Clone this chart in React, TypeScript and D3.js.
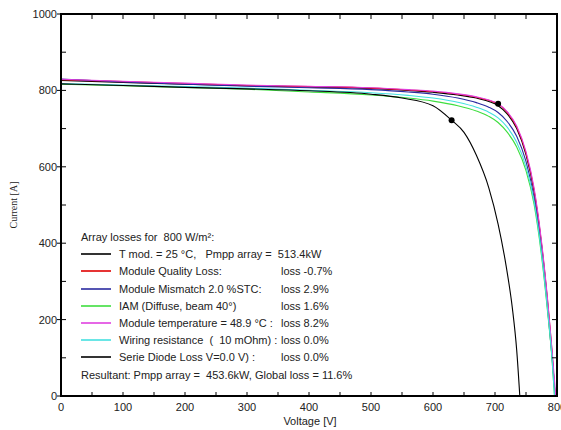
import React, { useRef, useEffect } from 'react';
import * as d3 from 'd3';

// I-V curves: [voltage V, current A]
const tmodCurve = [[0,826],[100,821],[200,816],[300,812],[400,809],[500,805],[560,800],[600,795],[640,788],[670,780],[690,771],[705,760],[720,738],[735,700],[750,632],[763,536],[775,396],[785,240],[792,110],[797,0]];
const qualityCurve = [[0,828],[100,823],[200,818],[300,813],[400,810],[500,806],[560,801],[600,797],[640,790],[670,782],[690,774],[705,764],[720,742],[735,704],[750,636],[763,540],[775,400],[785,245],[792,115],[797,0]];
const mismatchCurve = [[0,830],[100,822],[200,816],[300,811],[400,807],[500,802],[560,796],[600,790],[640,780],[670,768],[690,756],[705,742],[720,718],[735,680],[750,614],[763,520],[775,382],[785,228],[792,102],[797,0]];
const iamCurve = [[0,816],[100,812],[200,808],[300,803],[400,796],[500,788],[560,780],[600,772],[640,760],[670,746],[690,732],[705,716],[720,690],[735,652],[750,590],[763,502],[775,368],[785,218],[792,96],[796,0]];
const tempCurve = [[0,829],[100,824],[200,819],[300,814],[400,811],[500,807],[560,802],[600,798],[640,791],[670,783],[690,775],[705,765],[720,744],[735,707],[750,640],[763,545],[775,405],[785,250],[792,120],[798,0]];
const wiringCurve = [[0,818],[100,814],[200,810],[300,806],[400,800],[500,794],[560,787],[600,780],[640,769],[670,756],[690,743],[705,728],[720,703],[735,664],[750,600],[763,510],[775,374],[785,222],[792,98],[796,0]];
const diodeCurve = [[0,817],[100,813],[200,808],[300,804],[400,799],[500,790],[550,780],[600,760],[630,722],[650,690],[670,630],[690,545],[705,450],[718,340],[728,230],[735,120],[740,0]];

const mppPoints = [[705, 765], [630, 722]];

const legendTitle = 'Array losses for  800 W/m²:';
const legendLabels = [
  'T mod. = 25 °C,   Pmpp array =  513.4kW',
  'Module Quality Loss:',
  'Module Mismatch 2.0 %STC:',
  'IAM (Diffuse, beam 40°)',
  'Module temperature = 48.9 °C :',
  'Wiring resistance  (  10 mOhm) :',
  'Serie Diode Loss V=0.0 V) :',
];
const legendLosses = ['', 'loss -0.7%', 'loss 2.9%', 'loss 1.6%', 'loss 8.2%', 'loss 0.0%', 'loss 0.0%'];
const legendColors = ['#000000', '#e00000', '#2a2aa0', '#3ede3e', '#e040e0', '#44e0e0', '#000000'];
const resultantText = 'Resultant: Pmpp array =  453.6kW, Global loss = 11.6%';

const curves = [tmodCurve, qualityCurve, mismatchCurve, iamCurve, tempCurve, wiringCurve, diodeCurve];

const xTicks = [0, 100, 200, 300, 400, 500, 600, 700, 800];
const yTicks = [0, 200, 400, 600, 800, 1000];

const width = 561;
const height = 430;
const margin = { left: 61, right: 4, top: 14, bottom: 34 };

const App = () => {
  const svgRef = useRef(null);

  useEffect(() => {
    const svgEl = d3.select(svgRef.current);
    svgEl.selectAll('*').remove();

    const x = d3.scaleLinear().domain([0, 800]).range([margin.left, width - margin.right]);
    const y = d3.scaleLinear().domain([0, 1000]).range([height - margin.bottom, margin.top]);
    const font = 'Liberation Sans, Arial, sans-serif';

    // curves
    const curveLine = d3.line()
      .x(d => x(d[0]))
      .y(d => y(d[1]))
      .curve(d3.curveMonotoneX);

    const plot = svgEl.append('g');
    curves.forEach((c, i) => {
      plot.append('path')
        .attr('d', curveLine(c))
        .attr('fill', 'none')
        .attr('stroke', legendColors[i])
        .attr('stroke-width', 1.1);
    });

    plot.selectAll('circle')
      .data(mppPoints)
      .enter()
      .append('circle')
      .attr('cx', d => x(d[0]))
      .attr('cy', d => y(d[1]))
      .attr('r', 3)
      .attr('fill', '#000');

    // inner ticks on all four sides
    const ticks = svgEl.append('g').attr('stroke', '#000').attr('stroke-width', 1);
    d3.range(0, 801, 50).forEach(v => {
      ticks.append('line').attr('x1', x(v)).attr('x2', x(v)).attr('y1', y(0)).attr('y2', y(0) - 4);
      ticks.append('line').attr('x1', x(v)).attr('x2', x(v)).attr('y1', y(1000)).attr('y2', y(1000) + 5);
    });
    d3.range(0, 1001, 100).forEach(v => {
      ticks.append('line').attr('x1', x(0)).attr('x2', x(0) + 5).attr('y1', y(v)).attr('y2', y(v));
      ticks.append('line').attr('x1', x(800)).attr('x2', x(800) - 5).attr('y1', y(v)).attr('y2', y(v));
    });
    yTicks.forEach(v => {
      ticks.append('line').attr('x1', x(0)).attr('x2', x(0) - 4).attr('y1', y(v)).attr('y2', y(v));
    });

    // frame
    svgEl.append('rect')
      .attr('x', x(0)).attr('y', y(1000))
      .attr('width', x(800) - x(0)).attr('height', y(0) - y(1000))
      .attr('fill', 'none').attr('stroke', '#000').attr('stroke-width', 2);

    // tick labels
    svgEl.append('g').selectAll('text')
      .data(xTicks)
      .enter()
      .append('text')
      .attr('x', d => x(d))
      .attr('y', y(0) + 15)
      .attr('text-anchor', 'middle')
      .attr('font-family', font)
      .attr('font-size', 11)
      .attr('fill', '#222')
      .text(d => d);

    svgEl.append('g').selectAll('text')
      .data(yTicks)
      .enter()
      .append('text')
      .attr('x', x(0) - 4)
      .attr('y', d => y(d) + 4)
      .attr('text-anchor', 'end')
      .attr('font-family', font)
      .attr('font-size', 11)
      .attr('fill', '#222')
      .text(d => d);

    // axis titles
    svgEl.append('text')
      .attr('x', 310).attr('y', height - 5)
      .attr('text-anchor', 'middle')
      .attr('font-family', font).attr('font-size', 11).attr('fill', '#222')
      .text('Voltage [V]');

    svgEl.append('text')
      .attr('transform', `translate(17, ${(y(0) + y(1000)) / 2}) rotate(-90)`)
      .attr('text-anchor', 'middle')
      .attr('font-family', 'Liberation Serif, Times New Roman, serif').attr('font-size', 10).attr('fill', '#222')
      .text('Current [A]');

    // legend (multiple spaces kept as in the original)
    const legend = svgEl.append('g')
      .attr('font-family', font)
      .attr('font-size', 11)
      .attr('fill', '#222');
    const addText = (tx, ty, str) =>
      legend.append('text')
        .attr('x', tx).attr('y', ty)
        .attr('xml:space', 'preserve')
        .style('white-space', 'pre')
        .text(str);
    const lx = 81;
    const ly = 237;
    const rowH = 17.2;
    addText(lx, ly + 4, legendTitle);
    legendLabels.forEach((label, i) => {
      const yy = Math.round(ly + (i + 1) * rowH);
      legend.append('line')
        .attr('x1', lx).attr('x2', lx + 30)
        .attr('y1', yy).attr('y2', yy)
        .attr('stroke', legendColors[i]).attr('stroke-width', 1.6);
      addText(lx + 38, yy + 4, label);
      addText(281, yy + 4, legendLosses[i]);
    });
    addText(lx, ly + 8 * rowH + 4, resultantText);
  }, []);

  return (
    <svg ref={svgRef} width={width} height={height}
      style={{ position: 'absolute', left: 0, top: 0, background: '#fff' }}></svg>
  );
};

export default App;
